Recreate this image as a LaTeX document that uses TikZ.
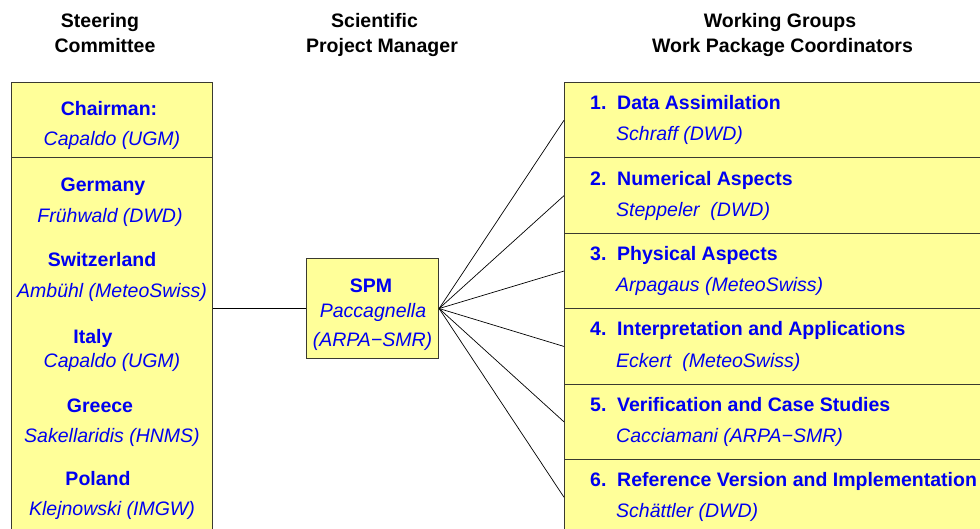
\documentclass[tikz,border=0pt]{standalone}
\usepackage{fontspec}
\setmainfont{Liberation Sans}
\usepackage{tikz}

\definecolor{panelyellow}{HTML}{FFFF99}
\definecolor{panelblue}{HTML}{0000F0}
\definecolor{paneledge}{HTML}{3A3A30}

\newcommand{\chartsize}{\fontsize{19.5}{24}\selectfont}

\tikzset{
  panel/.style={draw=paneledge, fill=panelyellow, line width=1.1pt, inner sep=0pt, anchor=north west},
  head/.style={font=\chartsize\bfseries, inner sep=0pt, anchor=base},
  wgtitle/.style={font=\chartsize\bfseries, text=panelblue, inner sep=0pt, anchor=base},
  wgname/.style={font=\chartsize\itshape, text=panelblue, inner sep=0pt, anchor=base},
  link/.style={line width=0.7pt},
}

\begin{document}
\begin{tikzpicture}[x=1pt, y=-1pt]
    \useasboundingbox (0,0) rectangle (980,529);
    \clip (0,0) rectangle (980,529);

    % column headings
    \node[head] (steer1) at (100,27.5) {Steering};
    \node[head] (steer2) at (105,53) {Committee};
    \node[head] (spmh1) at (374.5,27.5) {Scientific};
    \node[head] (spmh2) at (382,53) {Project Manager};
    \node[head] (wgh1) at (780,27.5) {Working Groups};
    \node[head] (wgh2) at (782.5,53) {Work Package Coordinators};

    % steering committee
    \node[panel, minimum width=201pt, minimum height=75pt] (chair) at (11,82) {};
    \node[panel, minimum width=201pt, minimum height=400pt] (sc) at (11,157) {};
    \node[wgtitle] (chairt) at (109,116) {Chairman:};
    \node[wgname] (chairn) at (112,146) {Capaldo (UGM)};
    \node[wgtitle] (det) at (103,192) {Germany};
    \node[wgname] (den) at (110,223) {Frühwald (DWD)};
    \node[wgtitle] (cht) at (102,267) {Switzerland};
    \node[wgname] (chn) at (112,298) {Ambühl (MeteoSwiss)};
    \node[wgtitle] (itt) at (93,343) {Italy};
    \node[wgname] (itn) at (112,367) {Capaldo (UGM)};
    \node[wgtitle] (grt) at (100,412) {Greece};
    \node[wgname] (grn) at (112,442) {Sakellaridis (HNMS)};
    \node[wgtitle] (plt) at (98,485) {Poland};
    \node[wgname] (pln) at (112,515) {Klejnowski (IMGW)};

    % project manager
    \node[panel, minimum width=132pt, minimum height=100pt] (spm) at (306,258) {};
    \node[wgtitle] (spmt) at (371,293) {SPM};
    \node[wgname] (spmn1) at (373,318) {Paccagnella};
    \node[wgname] (spmn2) at (372.5,347) {(ARPA−SMR)};

    % working groups
    \node[panel, minimum width=440pt, minimum height=75.4pt] (wp1) at (564,82) {};
    \node[panel, minimum width=440pt, minimum height=75.4pt] (wp2) at (564,157.4) {};
    \node[panel, minimum width=440pt, minimum height=75.4pt] (wp3) at (564,232.8) {};
    \node[panel, minimum width=440pt, minimum height=75.4pt] (wp4) at (564,308.2) {};
    \node[panel, minimum width=440pt, minimum height=75.4pt] (wp5) at (564,383.6) {};
    \node[panel, minimum width=440pt, minimum height=75.4pt] (wp6) at (564,459) {};

    \node[wgtitle, anchor=base west] (wp1n) at (590,109.8) {1.};
    \node[wgtitle, anchor=base west] (wp1t) at (617,109.8) {Data Assimilation};
    \node[wgname, anchor=base west] (wp1c) at (616,140.8) {Schraff (DWD)};
    \node[wgtitle, anchor=base west] (wp2n) at (590,185.2) {2.};
    \node[wgtitle, anchor=base west] (wp2t) at (617,185.2) {Numerical Aspects};
    \node[wgname, anchor=base west] (wp2c) at (616,216.2) {Steppeler\ \ (DWD)};
    \node[wgtitle, anchor=base west] (wp3n) at (590,260.6) {3.};
    \node[wgtitle, anchor=base west] (wp3t) at (617,260.6) {Physical Aspects};
    \node[wgname, anchor=base west] (wp3c) at (616,291.6) {Arpagaus (MeteoSwiss)};
    \node[wgtitle, anchor=base west] (wp4n) at (590,336) {4.};
    \node[wgtitle, anchor=base west] (wp4t) at (617,336) {Interpretation and Applications};
    \node[wgname, anchor=base west] (wp4c) at (616,367) {Eckert\ \ (MeteoSwiss)};
    \node[wgtitle, anchor=base west] (wp5n) at (590,411.4) {5.};
    \node[wgtitle, anchor=base west] (wp5t) at (617,411.4) {Verification and Case Studies};
    \node[wgname, anchor=base west] (wp5c) at (616,442.4) {Cacciamani (ARPA−SMR)};
    \node[wgtitle, anchor=base west] (wp6n) at (590,486.8) {6.};
    \node[wgtitle, anchor=base west] (wp6t) at (617,486.8) {Reference Version and Implementation};
    \node[wgname, anchor=base west] (wp6c) at (616,517.8) {Schättler (DWD)};

    % connectors
    \draw[link] (spm.west) -- (spm.west -| sc.east);
    \draw[link] (spm.east) -- (wp1.west);
    \draw[link] (spm.east) -- (wp2.west);
    \draw[link] (spm.east) -- (wp3.west);
    \draw[link] (spm.east) -- (wp4.west);
    \draw[link] (spm.east) -- (wp5.west);
    \draw[link] (spm.east) -- (wp6.west);

\end{tikzpicture}
\end{document}
